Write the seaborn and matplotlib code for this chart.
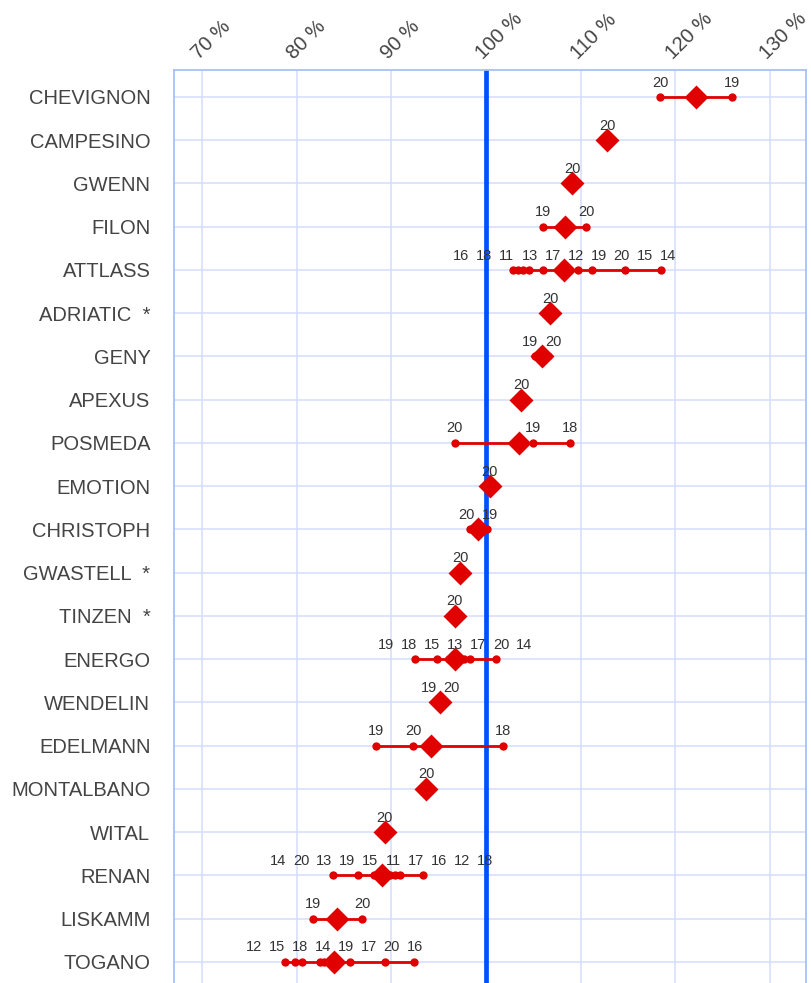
import numpy as np
import pandas as pd
import matplotlib

matplotlib.use("Agg")  # backend no interactivo
import matplotlib.pyplot as plt
import seaborn as sns

# Variedades, de arriba hacia abajo
variedades = [
    "CHEVIGNON", "CAMPESINO", "GWENN", "FILON", "ATTLASS", "ADRIATIC  *",
    "GENY", "APEXUS", "POSMEDA", "EMOTION", "CHRISTOPH", "GWASTELL  *",
    "TINZEN  *", "ENERGO", "WENDELIN", "EDELMANN", "MONTALBANO", "WITAL",
    "RENAN", "LISKAMM", "TOGANO",
]

# Año de ensayo (etiqueta de cada punto) por variedad
anios = [
    [20, 19],
    [20],
    [20],
    [19, 20],
    [16, 18, 11, 13, 17, 12, 19, 20, 15, 14],
    [20],
    [19, 20],
    [20],
    [20, 19, 18],
    [20],
    [20, 19],
    [20],
    [20],
    [19, 18, 15, 13, 17, 20, 14],
    [19, 20],
    [19, 20, 18],
    [20],
    [20],
    [14, 20, 13, 19, 15, 11, 17, 16, 12, 18],
    [19, 20],
    [12, 15, 18, 14, 19, 17, 20, 16],
]

# Rendimiento relativo (%) de cada año
rendimientos = [
    [118.4, 126.0],
    [112.8],
    [109.1],
    [106.0, 110.6],
    [102.9, 103.4, 103.9, 104.5, 106.0, 107.8, 109.7, 111.2, 114.7, 118.5],
    [106.8],
    [105.2, 106.6],
    [103.7],
    [96.7, 105.0, 108.9],
    [100.4],
    [98.3, 100.1],
    [97.3],
    [96.7],
    [92.5, 94.8, 96.1, 96.9, 97.7, 98.3, 101.1],
    [94.9, 95.4],
    [88.4, 92.3, 101.8],
    [93.7],
    [89.3],
    [83.8, 86.5, 88.2, 88.6, 88.9, 89.3, 89.9, 90.4, 90.9, 93.4],
    [81.7, 86.9],
    [78.8, 79.8, 80.6, 82.5, 82.9, 85.6, 89.3, 92.4],
]

ticks_x = [70, 80, 90, 100, 110, 120, 130]

rojo = "#e00000"
azul = "#0050ff"
azul_claro = "#d3ddfb"

# Tabla larga
filas = []
for var, ans, vals in zip(variedades, anios, rendimientos):
    for a, v in zip(ans, vals):
        filas.append({"variedad": var, "anio": a, "valor": v})
df = pd.DataFrame(filas)


# Reparte etiquetas que se solapan alrededor de la media de sus posiciones
def repartir(xs, sep):
    grupos = [[x] for x in xs]
    cambiado = True
    while cambiado:
        cambiado = False
        nuevos = [grupos[0]]
        for g in grupos[1:]:
            prev = nuevos[-1]
            fin_prev = np.mean(prev) + (len(prev) - 1) / 2 * sep
            ini_g = np.mean(g) - (len(g) - 1) / 2 * sep
            if ini_g - fin_prev < sep:
                nuevos[-1] = prev + g
                cambiado = True
            else:
                nuevos.append(g)
        grupos = nuevos
    pos = []
    for g in grupos:
        c = np.mean(g)
        pos += [c + (k - (len(g) - 1) / 2) * sep for k in range(len(g))]
    return pos


sns.set_style("white")
plt.rcParams["font.family"] = ["Liberation Sans", "DejaVu Sans"]

fig = plt.figure(figsize=(8.12, 9.83), dpi=100)
ax = fig.add_axes([174 / 812, 0, 632 / 812, 913 / 983])

ax.axvline(100, color=azul, lw=3.4, zorder=2)

sns.stripplot(
    data=df, x="valor", y="variedad", order=variedades, jitter=False,
    color=rojo, size=6, linewidth=0, ax=ax, zorder=3,
)
sns.pointplot(
    data=df, x="valor", y="variedad", order=variedades, estimator="mean",
    errorbar=("pi", 100), color=rojo, markers="D", linestyle="none",
    markersize=10, err_kws={"linewidth": 2}, capsize=0, ax=ax,
)

# Etiquetas de año sobre los puntos
xmin, xmax = 67.05, 133.8
sep = 23 / 9.47
for i, (ans, vals) in enumerate(zip(anios, rendimientos)):
    orden = np.argsort(vals, kind="stable")
    xs = [vals[k] for k in orden]
    pos = repartir(xs, sep)
    for k, px in zip(orden, pos):
        ax.annotate(
            str(ans[k]), xy=(px, i), xytext=(0, 7.5), textcoords="offset points",
            ha="center", va="baseline", fontsize=10.5, color="#333333", zorder=5,
        )

ax.set_xlim(xmin, xmax)
ax.set_ylim(20.49, -0.624)
ax.set_xticks(ticks_x)
ax.set_xticklabels([f"{t} %" for t in ticks_x])
ax.xaxis.tick_top()
ax.set_xlabel("")
ax.set_ylabel("")
ax.tick_params(axis="x", length=0, pad=5, labelsize=14.5, labelcolor="#444444")
ax.tick_params(axis="y", length=0, pad=17, labelsize=14.5, labelcolor="#444444")
for lbl in ax.get_xticklabels():
    lbl.set_rotation(45)
    lbl.set_ha("left")
    lbl.set_va("bottom")
    lbl.set_rotation_mode("anchor")

ax.grid(True, color=azul_claro, lw=1.1, zorder=0)
ax.set_axisbelow(True)
for lado in ["left", "top", "right"]:
    ax.spines[lado].set_color("#a9c0f7")
    ax.spines[lado].set_linewidth(1.3)
ax.spines["bottom"].set_visible(False)

fig.savefig("out.png", dpi=100)
plt.close()
